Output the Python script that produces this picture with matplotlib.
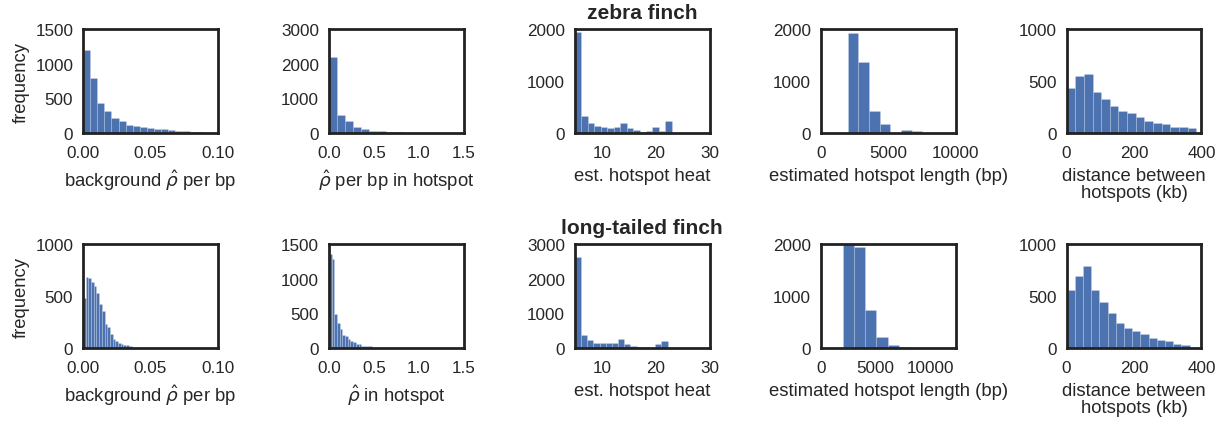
"""Hotspot summary histograms: zebra finch (top) vs long-tailed finch (bottom)"""
import numpy as np
import matplotlib
matplotlib.use('Agg')
import matplotlib.pyplot as plt
import seaborn as sns

sns.set_style('white')
plt.rcParams['font.family'] = ['Liberation Sans', 'DejaVu Sans']

BLUE = '#4C72B0'
DARK = '#262626'

# ── zebra finch: bin range + counts per bin ──
zf_bg_range = (0.0, 0.1)
zf_bg_counts = [1195, 790, 440, 320, 212, 168, 120, 106, 84, 72, 58, 52, 43, 34, 24, 18, 10, 6, 3]

zf_hot_range = (0.0, 1.53)
zf_hot_counts = [2200, 520, 335, 185, 125, 67, 55, 40, 30, 15, 10, 6, 4, 3, 2, 1, 1]

zf_heat_range = (5.0, 23.0)
zf_heat_counts = [1940, 335, 195, 145, 125, 95, 115, 195, 95, 60, 30, 45, 120, 45, 230]

zf_len_range = (2000, 9900)
zf_len_counts = [1920, 1360, 420, 175, 8, 58, 32, 5, 2, 2]

zf_dist_range = (0, 385)
zf_dist_counts = [433, 545, 564, 397, 324, 263, 215, 195, 157, 112, 96, 83, 61, 54, 51]

# ── long-tailed finch ──
lt_bg_range = (0.0, 0.036)
lt_bg_counts = [480, 689, 673, 638, 599, 526, 423, 359, 231, 208, 135, 87, 64, 48, 38, 32, 26, 16]

lt_hot_range = (0.0, 0.48)
lt_hot_counts = [1354, 1286, 495, 359, 277, 194, 170, 131, 102, 83, 53, 53, 34, 34, 34, 34]

lt_heat_range = (5.0, 22.2)
lt_heat_counts = [2620, 370, 230, 150, 150, 150, 150, 250, 110, 75, 45, 25, 10, 110, 210]

lt_len_range = (2000, 12300)
lt_len_counts = [2050, 1940, 725, 205, 65, 25, 8, 3, 2, 1]

lt_dist_range = (0, 365)
lt_dist_counts = [557, 696, 790, 563, 443, 340, 239, 191, 162, 136, 100, 81, 68, 39, 26]

rho = r'$\hat{\rho}$'
rows = [
    ('zebra finch', [
        (zf_bg_range, zf_bg_counts, f'background {rho} per bp', (0, 0.1), [0, 0.05, 0.1], '{:.2f}', [0, 500, 1000, 1500]),
        (zf_hot_range, zf_hot_counts, f'{rho} per bp in hotspot', (0, 1.5), [0, 0.5, 1.0, 1.5], '{:.1f}', [0, 1000, 2000, 3000]),
        (zf_heat_range, zf_heat_counts, 'est. hotspot heat', (5, 30), [10, 20, 30], '{:.0f}', [0, 1000, 2000]),
        (zf_len_range, zf_len_counts, 'estimated hotspot length (bp)', (0, 10000), [0, 5000, 10000], '{:.0f}', [0, 1000, 2000]),
        (zf_dist_range, zf_dist_counts, 'distance between\nhotspots (kb)', (0, 400), [0, 200, 400], '{:.0f}', [0, 500, 1000]),
    ]),
    ('long-tailed finch', [
        (lt_bg_range, lt_bg_counts, f'background {rho} per bp', (0, 0.1), [0, 0.05, 0.1], '{:.2f}', [0, 500, 1000]),
        (lt_hot_range, lt_hot_counts, f'{rho} in hotspot', (0, 1.5), [0, 0.5, 1.0, 1.5], '{:.1f}', [0, 500, 1000, 1500]),
        (lt_heat_range, lt_heat_counts, 'est. hotspot heat', (5, 30), [10, 20, 30], '{:.0f}', [0, 1000, 2000, 3000]),
        (lt_len_range, lt_len_counts, 'estimated hotspot length (bp)', (0, 12300), [0, 5000, 10000], '{:.0f}', [0, 1000, 2000]),
        (lt_dist_range, lt_dist_counts, 'distance between\nhotspots (kb)', (0, 400), [0, 200, 400], '{:.0f}', [0, 500, 1000]),
    ]),
]

fig, axes = plt.subplots(2, 5, figsize=(12.26, 4.31), dpi=100)
fig.subplots_adjust(left=0.0677, right=0.980, top=0.930, bottom=0.190,
                    wspace=0.822, hspace=1.07)

for r, (title, panels) in enumerate(rows):
    for c, (rng, counts, xlabel, xlim, xticks, fmt, yticks) in enumerate(panels):
        ax = axes[r, c]
        counts = np.asarray(counts, dtype=float)
        edges = np.histogram_bin_edges([], bins=len(counts), range=rng)
        ax.hist(edges[:-1], bins=edges, weights=counts, color=BLUE,
                edgecolor=(1, 1, 1, 0.3), linewidth=0.4)
        ax.set_xlim(*xlim)
        ax.set_ylim(yticks[0], yticks[-1])
        ax.set_xticks(xticks)
        ax.set_xticklabels([fmt.format(t) for t in xticks])
        ax.set_yticks(yticks)
        ax.tick_params(labelsize=12.3, colors=DARK, length=0, pad=7)
        ax.tick_params(axis='x', pad=8.5)
        ax.set_xlabel(xlabel, fontsize=13.3, color=DARK, labelpad=5, linespacing=1.0)
        for s in ax.spines.values():
            s.set_visible(True)
            s.set_linewidth(2)
            s.set_color('#222222')
        if c == 0:
            ax.set_ylabel('frequency', fontsize=13.3, color=DARK)
        if c == 2:
            ax.set_title(title, fontsize=15, fontweight='bold', color=DARK, pad=8)

plt.savefig('out.png')
plt.close()
